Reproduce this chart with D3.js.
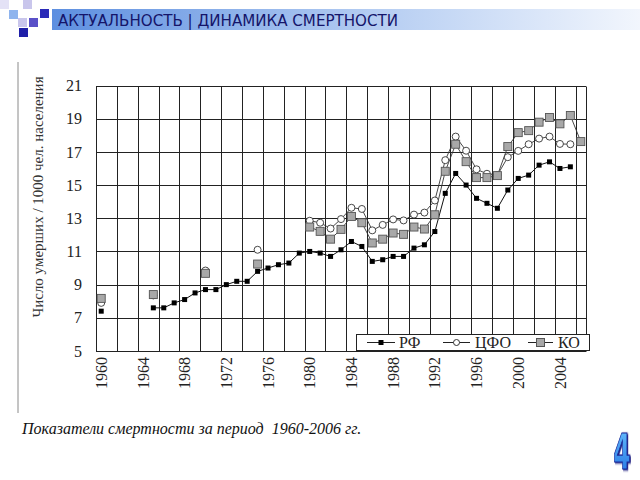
<!DOCTYPE html>
<html><head><meta charset="utf-8">
<script src="https://cdn.jsdelivr.net/npm/d3@7"></script>
<style>
body{margin:0;background:#fff;}
svg{display:block;}
</style></head>
<body>
<svg id="c" width="640" height="480"></svg>
<script>
const years = d3.range(1960, 2007);
const tickYears = [1960,1964,1968,1972,1976,1980,1984,1988,1992,1996,2000,2004];
const yTicks = [5,7,9,11,13,15,17,19,21];
const seriesNames = ["РФ","ЦФО","КО"];
// values by year 1960..2006 (null = no data)
const rf = [7.4,null,null,null,null,7.6,7.6,7.9,8.1,8.5,8.7,8.7,9.0,9.2,9.2,9.8,10.0,10.2,10.3,10.9,
  11.0,10.9,10.7,11.1,11.6,11.3,10.4,10.5,10.7,10.7,11.2,11.4,12.2,14.5,15.7,15.0,14.2,13.9,13.6,14.7,
  15.4,15.6,16.2,16.4,16.0,16.1,null];
const cfo = [7.9,null,null,null,null,8.35,null,null,null,null,9.85,null,null,null,null,11.1,null,null,null,null,
  12.85,12.73,12.38,12.95,13.63,13.56,12.27,12.6,12.93,12.87,13.22,13.34,14.07,16.5,17.92,17.07,15.95,15.68,15.6,16.68,
  17.06,17.46,17.8,17.92,17.48,17.46,null];
const ko = [8.17,null,null,null,null,8.4,null,null,null,null,9.68,null,null,null,null,10.24,null,null,null,null,
  12.47,12.21,11.74,12.33,13.11,12.73,11.51,11.74,12.11,12.03,12.47,12.35,13.21,15.83,17.46,16.41,15.45,15.45,15.57,17.32,
  18.16,18.28,18.79,19.07,18.69,19.19,17.62];

const svg = d3.select("#c");

// header decoration
const sq = [[9,10,"#8fb4ee"],[23,0,"#c9c6ec"],[40,9,"#2a2ab8"],[29,18,"#5a50c8"],[18,18,"#c9c6ec"],[19,28,"#1f1fa8"],[0,0,"#e4e2f6"]];
const defs = svg.append("defs");
const hg = defs.append("linearGradient").attr("id","hg").attr("x1","0").attr("x2","1");
hg.append("stop").attr("offset","0").attr("stop-color","#5d8fe0");
hg.append("stop").attr("offset","0.55").attr("stop-color","#b5cdf2");
hg.append("stop").attr("offset","1").attr("stop-color","#f2f6fd");
svg.append("rect").attr("x",52).attr("y",9).attr("width",588).attr("height",21).attr("fill","url(#hg)");
svg.selectAll("rect.sq").data(sq).join("rect").attr("class","sq")
  .attr("x",d=>d[0]).attr("y",d=>d[1]).attr("width",9).attr("height",9).attr("fill",d=>d[2]);
svg.append("text").attr("x",58).attr("y",26).attr("font-family","DejaVu Sans").attr("font-size",15)
  .attr("fill","#15156a").attr("textLength",340).attr("lengthAdjust","spacingAndGlyphs")
  .text("АКТУАЛЬНОСТЬ | ДИНАМИКА СМЕРТНОСТИ");

// left frame line
svg.append("line").attr("x1",18).attr("x2",18).attr("y1",62).attr("y2",413).attr("stroke","#8a8a8a").attr("stroke-width",1);

const x = d3.scaleBand().domain(years).range([96,586]).padding(0);
const y = d3.scaleLinear().domain([5,21]).range([351,85.5]);
const cx = yr => x(yr) + x.bandwidth()/2;

const g = svg.append("g");
// horizontal grid
g.selectAll("line.h").data(yTicks).join("line").attr("class","h")
  .attr("x1",96).attr("x2",586).attr("y1",d=>Math.round(y(d))+0.5).attr("y2",d=>Math.round(y(d))+0.5)
  .attr("stroke","#222").attr("stroke-width",1);
// vertical grid
const vYears = years.filter((d,i)=>i%2===0);
const vx = vYears.map(d=>x(d)).concat([586]);
g.selectAll("line.v").data(vx).join("line").attr("class","v")
  .attr("x1",d=>Math.round(d)+0.5).attr("x2",d=>Math.round(d)+0.5).attr("y1",Math.round(y(21))+0.5).attr("y2",Math.round(y(5))+0.5)
  .attr("stroke","#222").attr("stroke-width",1);

// axes labels
const ya = svg.append("g").attr("transform","translate(82,0)")
  .call(d3.axisLeft(y).tickValues(yTicks).tickSize(0).tickPadding(0));
ya.select(".domain").remove();
ya.selectAll("text").attr("font-family","Liberation Serif").attr("font-size",16).attr("fill","#222");

const xa = svg.append("g").attr("transform","translate(0,357)")
  .call(d3.axisBottom(x).tickValues(tickYears).tickSize(0).tickPadding(0));
xa.select(".domain").remove();
xa.selectAll("text").attr("font-family","Liberation Serif").attr("font-size",16).attr("fill","#222")
  .attr("transform","rotate(-90)").attr("text-anchor","end").attr("dy","0.35em").attr("y",0).attr("x",0);

// y title
svg.append("text").attr("transform","translate(43,197) rotate(-90)").attr("text-anchor","middle")
  .attr("font-family","Liberation Serif").attr("font-size",15).attr("fill","#333")
  .text("Число умерших / 1000 чел. населения");

// lines
const line = d3.line().defined(d=>d[1]!=null).x(d=>cx(d[0])).y(d=>y(d[1]));
const pts = arr => years.map((yr,i)=>[yr,arr[i]]);
svg.append("path").attr("d",line(pts(rf))).attr("fill","none").attr("stroke","#111").attr("stroke-width",1);
svg.append("path").attr("d",line(pts(cfo))).attr("fill","none").attr("stroke","#333").attr("stroke-width",0.9);
svg.append("path").attr("d",line(pts(ko))).attr("fill","none").attr("stroke","#333").attr("stroke-width",0.9);

// markers
const rfp = pts(rf).filter(d=>d[1]!=null), cfp = pts(cfo).filter(d=>d[1]!=null), kop = pts(ko).filter(d=>d[1]!=null);
svg.selectAll("rect.rf").data(rfp).join("rect").attr("class","rf")
  .attr("x",d=>cx(d[0])-2.5).attr("y",d=>y(d[1])-2.5).attr("width",5).attr("height",5).attr("fill","#000");
svg.selectAll("circle.cf").data(cfp).join("circle").attr("class","cf")
  .attr("cx",d=>cx(d[0])).attr("cy",d=>y(d[1])).attr("r",3.5).attr("fill","#fff").attr("stroke","#333").attr("stroke-width",0.9);
svg.selectAll("rect.ko").data(kop).join("rect").attr("class","ko")
  .attr("x",d=>cx(d[0])-4).attr("y",d=>y(d[1])-4).attr("width",8).attr("height",8)
  .attr("fill","#a8a8a8").attr("stroke","#555").attr("stroke-width",0.9);

// legend
const lg = svg.append("g");
lg.append("rect").attr("x",356.5).attr("y",334.5).attr("width",233).attr("height",16).attr("fill","#fff").attr("stroke","#222");
const legItems = [{n:seriesNames[0],x1:367,x2:395,tx:399,t:"rf"},{n:seriesNames[1],x1:443,x2:470,tx:475,t:"cf"},{n:seriesNames[2],x1:528,x2:553,tx:558,t:"ko"}];
legItems.forEach(it=>{
  const my = 342.5, mx=(it.x1+it.x2)/2;
  lg.append("line").attr("x1",it.x1).attr("x2",it.x2).attr("y1",my).attr("y2",my).attr("stroke","#222");
  if(it.t==="rf") lg.append("rect").attr("x",mx-2.5).attr("y",my-2.5).attr("width",5).attr("height",5).attr("fill","#000");
  if(it.t==="cf") lg.append("circle").attr("cx",mx).attr("cy",my).attr("r",3).attr("fill","#fff").attr("stroke","#333");
  if(it.t==="ko") lg.append("rect").attr("x",mx-4).attr("y",my-4).attr("width",8).attr("height",8).attr("fill","#a8a8a8").attr("stroke","#555");
  lg.append("text").attr("x",it.tx).attr("y",348).attr("font-family","Liberation Serif").attr("font-size",16).attr("fill","#222").text(it.n);
});

// caption
svg.append("text").attr("x",22).attr("y",434).attr("font-family","Liberation Serif").attr("font-style","italic")
  .attr("font-size",16).attr("fill","#111").attr("xml:space","preserve").text("Показатели смертности за период  1960-2006 гг.");

// page number logo
const ng = defs.append("linearGradient").attr("id","ng").attr("x1","0").attr("x2","0").attr("y1","0").attr("y2","1");
ng.append("stop").attr("offset","0").attr("stop-color","#6cc4ff");
ng.append("stop").attr("offset","1").attr("stop-color","#1e6fe0");
const f = defs.append("filter").attr("id","sh").attr("x","-50%").attr("y","-50%").attr("width","200%").attr("height","200%");
f.append("feDropShadow").attr("dx",2).attr("dy",1).attr("stdDeviation",0.8).attr("flood-color","#1a1a80");
svg.append("text").attr("transform","translate(622,469) scale(0.5,1)").attr("text-anchor","middle")
  .attr("font-family","DejaVu Sans").attr("font-weight","bold").attr("font-size",50)
  .attr("fill","url(#ng)").attr("stroke","#1a2a9a").attr("stroke-width",1.2).attr("filter","url(#sh)").text("4");
</script>
</body></html>
